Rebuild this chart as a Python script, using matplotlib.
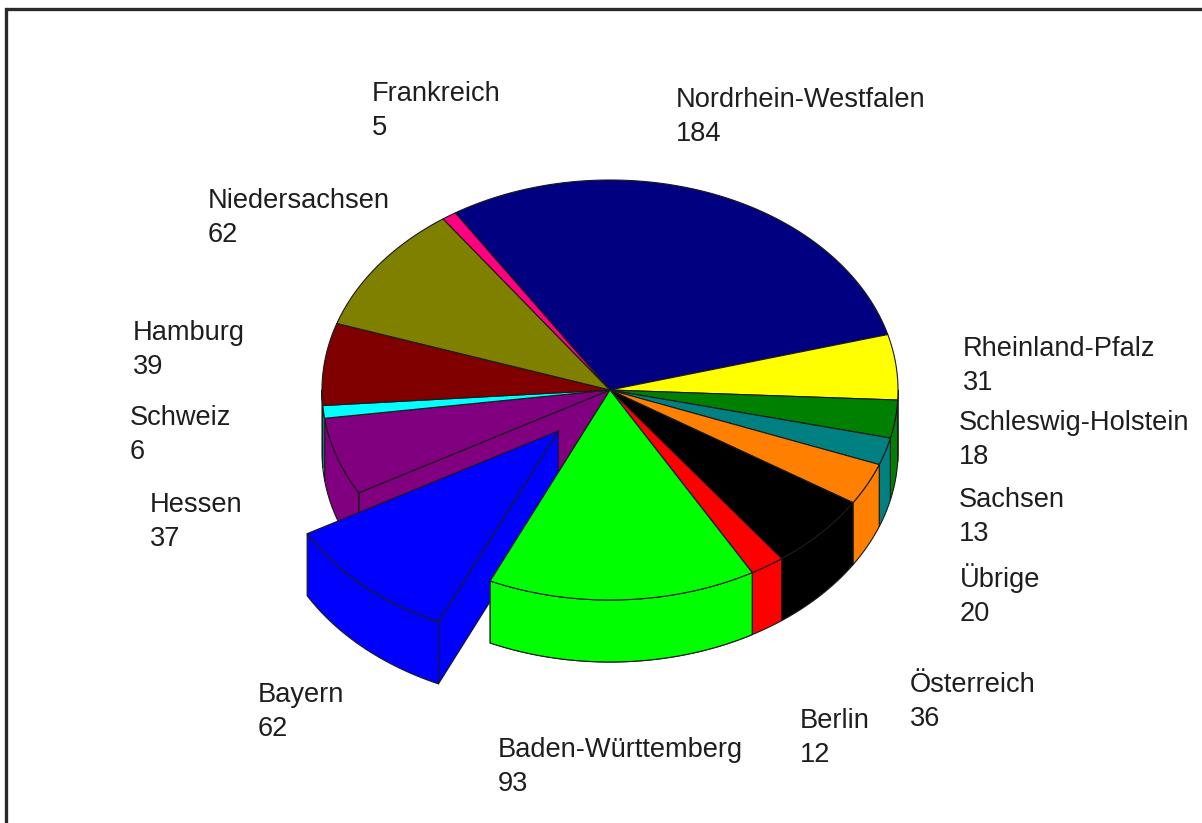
import numpy as np
import matplotlib
matplotlib.use('Agg')
import matplotlib.pyplot as plt
from matplotlib.patches import Polygon

# slices, clockwise from the top
names = ['Nordrhein-Westfalen', 'Rheinland-Pfalz', 'Schleswig-Holstein', 'Sachsen',
         'Übrige', 'Österreich', 'Berlin', 'Baden-Württemberg', 'Bayern', 'Hessen',
         'Schweiz', 'Hamburg', 'Niedersachsen', 'Frankreich']
values = [184, 31, 18, 13, 20, 36, 12, 93, 62, 37, 6, 39, 62, 5]
colors = ['#000080', '#ffff00', '#008000', '#008080', '#ff8000', '#000000', '#ff0000',
          '#00ff00', '#0000ff', '#800080', '#00ffff', '#800000', '#808000', '#ff0080']
explode = [0, 0, 0, 0, 0, 0, 0, 0, 0.265, 0, 0, 0, 0, 0]

# label anchor (left x, baseline of name line) in pixels
label_pos = {
    'Frankreich': (372, 101), 'Nordrhein-Westfalen': (676, 107),
    'Niedersachsen': (208, 208), 'Hamburg': (133, 340), 'Schweiz': (130, 425),
    'Hessen': (150, 512), 'Rheinland-Pfalz': (963, 356),
    'Schleswig-Holstein': (959, 430), 'Sachsen': (959, 507), 'Übrige': (960, 587),
    'Österreich': (910, 692), 'Berlin': (800, 728), 'Baden-Württemberg': (498, 757),
    'Bayern': (258, 702),
}

W, H = 1202, 823
cx, cy, rx, ry, depth = 610, 390, 288, 210, 62
start = 122.5
edge = dict(edgecolor='#1a1a1a', linewidth=0.8, joinstyle='round')


def rim(a, dx=0.0, dy=0.0, dz=0.0):
    a = np.radians(a)
    return np.column_stack([cx + dx + rx * np.cos(a), cy + dy - ry * np.sin(a) + dz])


def arc(lo, hi, dx, dy, dz=0.0):
    n = max(2, int(abs(hi - lo) * 2))
    return rim(np.linspace(lo, hi, n), dx, dy, dz)


fig = plt.figure(figsize=(W / 100, H / 100), dpi=100)
ax = fig.add_axes([0, 0, 1, 1])
ax.set_xlim(0, W)
ax.set_ylim(H, 0)
ax.axis('off')

total = sum(values)
cum = np.concatenate([[0], np.cumsum(values)])
n = len(values)
slices = []
for i, v in enumerate(values):
    a_hi = start - cum[i] / total * 360
    a_lo = start - cum[i + 1] / total * 360
    mid = np.radians((a_lo + a_hi) / 2)
    dx = explode[i] * rx * np.cos(mid)
    dy = -explode[i] * ry * np.sin(mid)
    slices.append((a_lo, a_hi, dx, dy, colors[i]))


def radial_walls(i, z, only_open=True):
    a_lo, a_hi, dx, dy, col = slices[i]
    c = np.array([[cx + dx, cy + dy]])
    # (edge angle, faces the viewer, neighbour across that edge)
    sides = ((a_hi, np.cos(np.radians(a_hi)) < 0, (i - 1) % n),
             (a_lo, np.cos(np.radians(a_lo)) > 0, (i + 1) % n))
    for a, visible, nb in sides:
        if not visible:
            continue
        if only_open and explode[nb] == 0:
            continue
        p = rim(np.array([a]), dx, dy)
        quad = np.vstack([c, p, p + [0, depth], c + [0, depth]])
        ax.add_patch(Polygon(quad, closed=True, facecolor=col, zorder=z, **edge))


def outer_wall(i, z):
    a_lo, a_hi, dx, dy, col = slices[i]
    # only the front half of the rim faces the viewer
    for k in range(-2, 2):
        lo = max(a_lo, 180 + 360 * k)
        hi = min(a_hi, 360 + 360 * k)
        if lo < hi:
            top = arc(lo, hi, dx, dy)
            bot = arc(hi, lo, dx, dy, depth)
            ax.add_patch(Polygon(np.vstack([top, bot]), closed=True,
                                 facecolor=col, zorder=z, **edge))


def top_face(i, z):
    a_lo, a_hi, dx, dy, col = slices[i]
    pts = np.vstack([[[cx + dx, cy + dy]], arc(a_lo, a_hi, dx, dy)])
    ax.add_patch(Polygon(pts, closed=True, facecolor=col, zorder=z, **edge))


for i in range(n):
    if explode[i] == 0:
        radial_walls(i, 1)
        outer_wall(i, 2)
        top_face(i, 3)

for i in range(n):
    if explode[i] > 0:
        radial_walls(i, 4, only_open=False)
        outer_wall(i, 5)
        top_face(i, 6)
        # the neighbour on the clockwise-facing side sits in front of its cut face
        a_hi = slices[i][1]
        nb = (i - 1) % n if np.cos(np.radians(a_hi)) < 0 else (i + 1) % n
        outer_wall(nb, 7)
        top_face(nb, 8)

for name, v in zip(names, values):
    x, y = label_pos[name]
    for txt, yy in ((name, y), (str(v), y + 34)):
        ax.text(x, yy, txt, fontsize=19.6, family='Liberation Sans', color='#1e1e1e',
                ha='left', va='baseline', zorder=10)

# chart frame (left and top edges)
ax.plot([5.5, 5.5, W + 5], [H + 5, 8.5, 8.5], color='#2a2a2a', lw=2.4,
        solid_joinstyle='miter', zorder=11)

fig.savefig('out.png', dpi=100)
